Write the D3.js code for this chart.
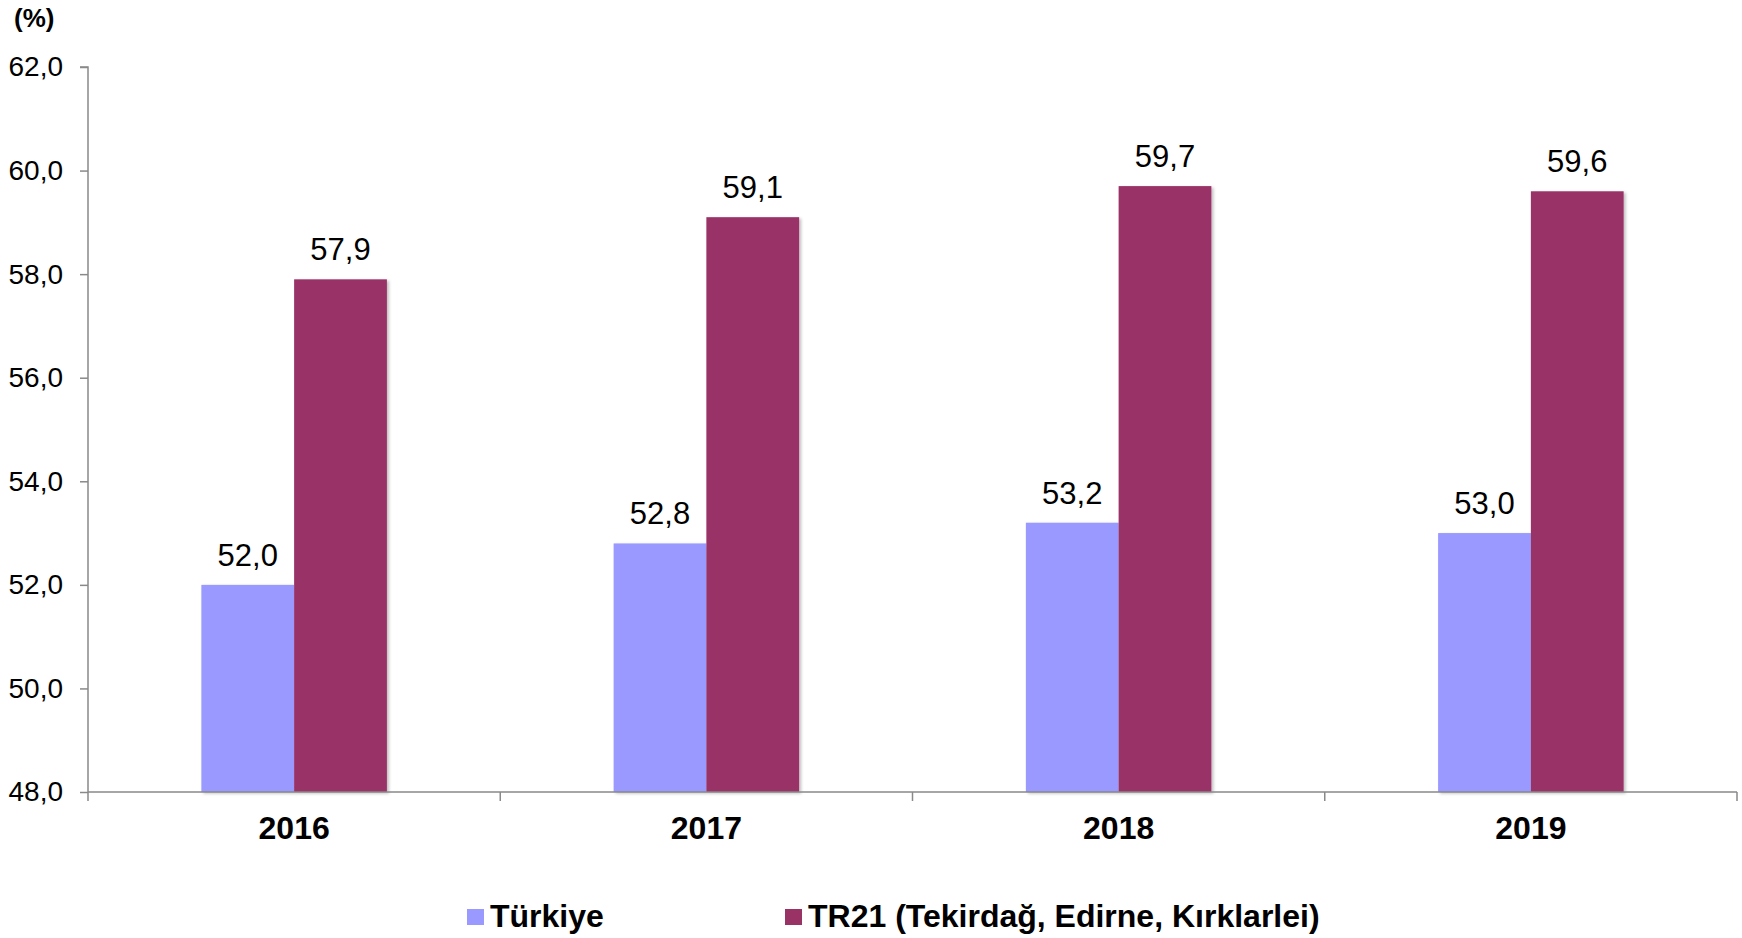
<!DOCTYPE html>
<html>
<head>
<meta charset="utf-8">
<script src="https://cdn.jsdelivr.net/npm/d3@7"></script>
<style>
    body {margin: 0; background: #fff;}
    svg {display: block; font-family: "Liberation Sans", Arial, sans-serif;}
</style>
</head>
<body>
<svg id="chart" width="1742" height="938"></svg>
<script>
const years = ["2016", "2017", "2018", "2019"]
const seriesNames = ["Türkiye", "TR21 (Tekirdağ, Edirne, Kırklarlei)"]
const turkiye = [52.0, 52.8, 53.2, 53.0]
const tr21 = [57.9, 59.1, 59.7, 59.6]
const yTicks = [48, 50, 52, 54, 56, 58, 60, 62]
const colors = ["#9999ff", "#993366"]

const margin = {top: 67, right: 5, bottom: 146, left: 88}
const width = 1742 - margin.left - margin.right
const height = 938 - margin.top - margin.bottom

const fmt = v => d3.format(".1f")(v).replace(".", ",")

const svg = d3.select("#chart")

svg.append("defs").append("filter")
    .attr("id", "shadow")
    .attr("x", "-10%").attr("y", "-10%").attr("width", "130%").attr("height", "130%")
    .append("feDropShadow")
    .attr("dx", 2).attr("dy", 1.5)
    .attr("stdDeviation", 1.5)
    .attr("flood-color", "#000")
    .attr("flood-opacity", 0.25)

const g = svg.append("g")
    .attr("transform", "translate(" + margin.left + "," + margin.top + ")")

const x = d3.scaleBand()
    .domain(years)
    .range([0, width])

const xInner = d3.scaleBand()
    .domain(seriesNames)
    .range([0, x.bandwidth() * 0.45])

const y = d3.scaleLinear()
    .domain([48, 62])
    .range([height, 0])

const rows = years.map((yr, i) => ({year: yr, values: [turkiye[i], tr21[i]]}))

const groupOffset = (x.bandwidth() - xInner.range()[1]) / 2

// bars
const groups = g.selectAll(".grp")
    .data(rows)
    .enter()
    .append("g")
    .attr("transform", d => "translate(" + (x(d.year) + groupOffset) + ",0)")

groups.selectAll("rect")
    .data(d => d.values.map((v, i) => ({name: seriesNames[i], value: v, idx: i})))
    .enter()
    .append("rect")
    .attr("x", d => xInner(d.name))
    .attr("y", d => y(d.value))
    .attr("width", xInner.bandwidth())
    .attr("height", d => height - y(d.value))
    .attr("fill", d => colors[d.idx])
    .attr("filter", "url(#shadow)")

groups.selectAll("text")
    .data(d => d.values.map((v, i) => ({name: seriesNames[i], value: v})))
    .enter()
    .append("text")
    .attr("x", d => xInner(d.name) + xInner.bandwidth() / 2)
    .attr("y", d => y(d.value) - 19)
    .attr("text-anchor", "middle")
    .style("font-size", "31px")
    .text(d => fmt(d.value))

// Y axis
const yAxis = g.append("g")
    .call(d3.axisLeft(y).tickValues(yTicks).tickFormat(fmt).tickSize(8).tickPadding(17))
yAxis.select(".domain").attr("stroke", "#898989").attr("stroke-width", 1.5)
    .attr("d", "M0," + height + "V0H-8")
yAxis.selectAll(".tick line").attr("stroke", "#898989").attr("stroke-width", 1.5)
yAxis.selectAll(".tick text").style("font-size", "28px").attr("fill", "#000")

// X axis with ticks at category borders
const xAxis = g.append("g")
    .attr("transform", "translate(0," + height + ")")
xAxis.append("line")
    .attr("x1", 0).attr("x2", width)
    .attr("stroke", "#898989").attr("stroke-width", 1.5)
xAxis.selectAll(".border")
    .data(years.concat(["end"]))
    .enter()
    .append("line")
    .attr("x1", (d, i) => i * x.step())
    .attr("x2", (d, i) => i * x.step())
    .attr("y1", 0).attr("y2", 9)
    .attr("stroke", "#898989").attr("stroke-width", 1.5)
xAxis.selectAll(".lbl")
    .data(years)
    .enter()
    .append("text")
    .attr("x", d => x(d) + x.bandwidth() / 2)
    .attr("y", 47)
    .attr("text-anchor", "middle")
    .style("font-size", "32px")
    .style("font-weight", "bold")
    .text(d => d)

// unit label
svg.append("text")
    .attr("x", 14)
    .attr("y", 27)
    .style("font-size", "26px")
    .style("font-weight", "bold")
    .text("(%)")

// legend
const legendX = [467, 785]
const legend = svg.selectAll(".legend")
    .data(seriesNames)
    .enter()
    .append("g")
    .attr("transform", (d, i) => "translate(" + legendX[i] + ",909)")
legend.append("rect")
    .attr("width", 17).attr("height", 16)
    .attr("fill", (d, i) => colors[i])
legend.append("text")
    .attr("x", 23)
    .attr("y", 18)
    .style("font-size", "32px")
    .style("font-weight", "bold")
    .text(d => d)
</script>
</body>
</html>
